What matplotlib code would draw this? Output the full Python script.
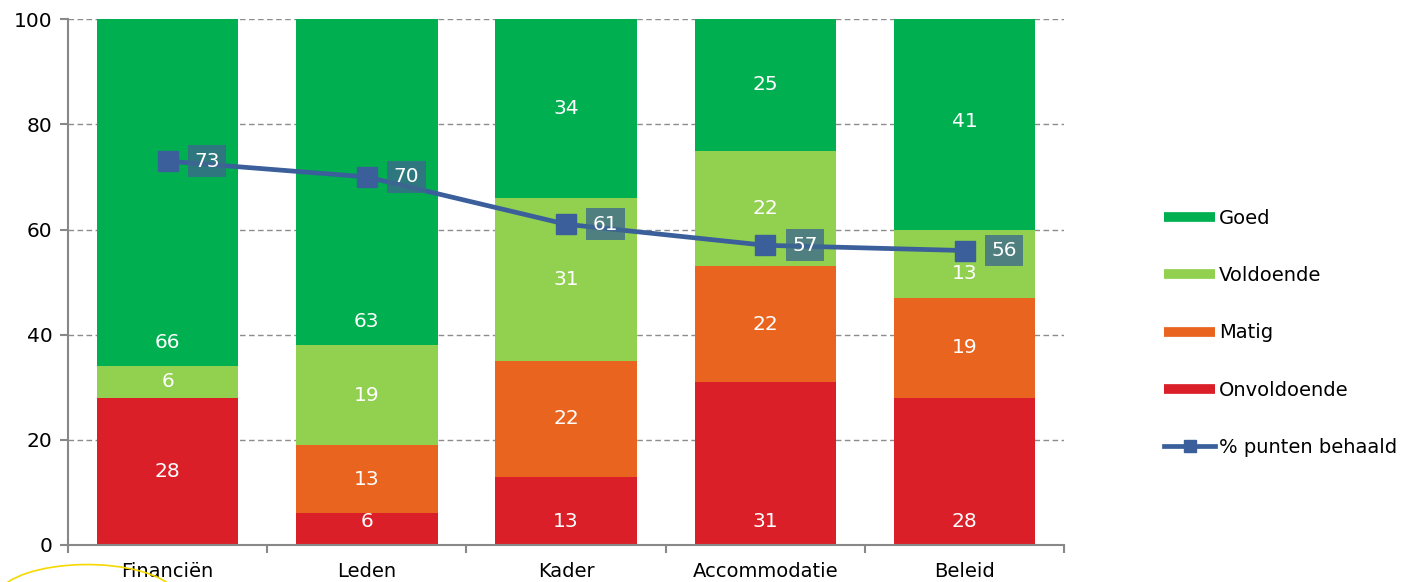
import numpy as np
import matplotlib.pyplot as plt
from matplotlib.lines import Line2D
from matplotlib.patches import Arc

plt.rcParams['font.family'] = 'DejaVu Sans'

categories = ['Financiën', 'Leden', 'Kader', 'Accommodatie', 'Beleid']
onvoldoende = [28, 6, 13, 31, 28]
matig = [0, 13, 22, 22, 19]
voldoende = [6, 19, 31, 22, 13]
goed = [66, 63, 34, 25, 41]
punten = [73, 70, 61, 57, 56]

series = [('Onvoldoende', onvoldoende, '#da1f28'),
          ('Matig', matig, '#e8641f'),
          ('Voldoende', voldoende, '#92d050'),
          ('Goed', goed, '#00b050')]

# segments whose label sits near the base instead of the centre (as in the original)
base_labels = {('Goed', 0), ('Goed', 1), ('Onvoldoende', 1), ('Onvoldoende', 2),
               ('Onvoldoende', 3), ('Onvoldoende', 4)}

fig = plt.figure(figsize=(14.04, 5.82), dpi=100)
ax = fig.add_axes([0.0484, 0.0636, 0.7096, 0.9034])

x = np.arange(len(categories))
width = 0.71
bottom = np.zeros(len(categories))
handles = []
for name, vals, col in series:
    vals = np.array(vals, dtype=float)
    ax.bar(x, vals, width, bottom=bottom, color=col, zorder=2)
    for i, v in enumerate(vals):
        if v <= 0:
            continue
        if (name, i) in base_labels:
            y = bottom[i] + 4.5
        else:
            y = bottom[i] + v / 2
        if name == 'Voldoende' and i == 4:
            y -= 1.8
        ax.text(x[i], min(y, 99), f'{int(v)}', ha='center', va='center',
                color='white', fontsize=14.5, zorder=3)
    bottom += vals
    handles.append(Line2D([], [], color=col, lw=7, solid_capstyle='butt', label=name))

ax.plot(x, punten, color='#3a5f9b', lw=3.4, marker='s', markersize=14.5,
        zorder=4, label='% punten behaald')
for i, v in enumerate(punten):
    ax.annotate(f'{v}', (x[i], v), xytext=(28.5, 0), textcoords='offset points',
                ha='center', va='center', color='white', fontsize=14.5, zorder=5,
                bbox=dict(boxstyle='square,pad=0.32', fc='#3d688d', ec='none', alpha=0.78))

handles = handles[::-1]
handles.append(Line2D([], [], color='#3a5f9b', lw=3.4, marker='s', markersize=9,
                      label='% punten behaald'))
fig.legend(handles=handles, loc='center left', bbox_to_anchor=(0.829, 0.428),
           frameon=False, fontsize=14, handlelength=2.65, handletextpad=0.2,
           labelspacing=1.97, borderpad=0, borderaxespad=0)

ax.set_xlim(-0.5, 4.5)
ax.set_ylim(0, 100)
ax.set_yticks([0, 20, 40, 60, 80, 100])
ax.set_xticks(x)
ax.set_xticklabels(categories, fontsize=14)
ax.set_xticks(np.arange(-0.5, 5, 1), minor=True)
ax.tick_params(axis='x', which='major', length=0, pad=12)
ax.tick_params(axis='x', which='minor', length=6, color='#888888', width=1.5)
ax.tick_params(axis='y', length=6, color='#888888', width=1.5, labelsize=14.5, pad=5)
ax.yaxis.grid(True, linestyle=(0, (4, 2.5)), color='#8c8c8c', lw=1.0, zorder=1)
ax.set_axisbelow(True)
for s in ['top', 'right']:
    ax.spines[s].set_visible(False)
for s in ['left', 'bottom']:
    ax.spines[s].set_color('#888888')
    ax.spines[s].set_linewidth(1.5)

# yellow logo arc in the lower-left corner
fig.add_artist(Arc((0.062, -0.03), 0.13, 0.12, theta1=15, theta2=170,
                   transform=fig.transFigure, color='#f5d800', lw=1.2))

fig.savefig('out.png', dpi=100)
